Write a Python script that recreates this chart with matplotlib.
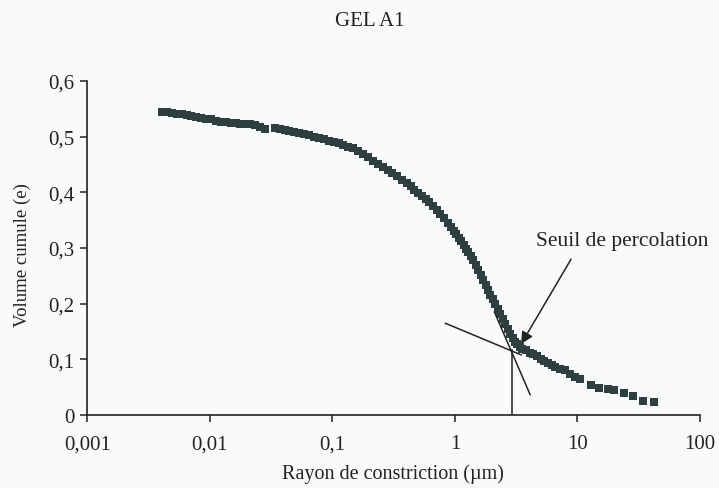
import numpy as np
import matplotlib
matplotlib.use("Agg")
import matplotlib.pyplot as plt

plt.rcParams['font.family'] = ['Liberation Serif', 'DejaVu Serif']

# rayon de constriction (um) / volume cumule
rayon = [0.00407, 0.00447, 0.00490, 0.00537, 0.00589, 0.00646, 0.00708, 0.00776,
         0.00851, 0.00933, 0.01023, 0.01122, 0.01230, 0.01349, 0.01479, 0.01622,
         0.01778, 0.01950, 0.02138, 0.02344, 0.02570, 0.02818,
         0.03388, 0.03715, 0.04074, 0.04467, 0.04898, 0.05370, 0.05888, 0.06457,
         0.07079, 0.07762, 0.08511, 0.09333, 0.1023, 0.1122, 0.1230, 0.1349,
         0.1479, 0.1622, 0.1778, 0.1950, 0.2138, 0.2344, 0.2570, 0.2818,
         0.3090, 0.3388, 0.3715, 0.4074, 0.4365, 0.4677, 0.5012, 0.5370,
         0.5754, 0.6166, 0.6607, 0.7079, 0.7586, 0.8128, 0.8710, 0.9333,
         0.9772, 1.023, 1.072, 1.122, 1.175, 1.230, 1.288, 1.349, 1.413,
         1.479, 1.549, 1.622, 1.698, 1.778, 1.862, 1.950, 2.042, 2.138,
         2.239, 2.344, 2.455, 2.570, 2.692, 2.818, 2.951, 3.090, 3.236,
         3.388, 3.548, 3.802, 4.074, 4.365, 4.677, 5.012, 5.370, 5.754,
         6.166, 6.607, 7.244, 7.943, 8.710, 9.550,
         10.4, 12.9, 15.1, 17.6, 20.0, 24.1, 28.2, 34.0, 42.4]
volume = [0.545, 0.544, 0.542, 0.541, 0.540, 0.539, 0.537, 0.535,
          0.534, 0.532, 0.531, 0.529, 0.527, 0.526, 0.525, 0.524,
          0.523, 0.523, 0.522, 0.521, 0.517, 0.514,
          0.515, 0.513, 0.512, 0.510, 0.508, 0.507, 0.505, 0.503,
          0.500, 0.498, 0.496, 0.493, 0.491, 0.488, 0.485, 0.482,
          0.479, 0.474, 0.468, 0.463, 0.457, 0.451, 0.446, 0.440,
          0.434, 0.429, 0.423, 0.417, 0.411, 0.405, 0.399, 0.394,
          0.388, 0.382, 0.376, 0.368, 0.361, 0.353, 0.345, 0.338,
          0.331, 0.325, 0.318, 0.312, 0.305, 0.298, 0.292, 0.285, 0.278,
          0.269, 0.261, 0.252, 0.243, 0.234, 0.225, 0.216, 0.208, 0.199,
          0.190, 0.181, 0.172, 0.163, 0.155, 0.146, 0.138, 0.132, 0.127,
          0.123, 0.119, 0.116, 0.112, 0.109, 0.106, 0.101, 0.097, 0.093,
          0.089, 0.086, 0.083, 0.080, 0.074, 0.069,
          0.065, 0.054, 0.049, 0.046, 0.045, 0.040, 0.034, 0.026, 0.023]

# tangentes et seuil
tangente1_x = [0.838, 3.47]
tangente1_y = [0.1647, 0.108]
tangente2_x = [2.10, 4.11]
tangente2_y = [0.185, 0.0365]
seuil_x = 2.91
seuil_y = 0.1165
fleche_debut = (8.87, 0.280)
fleche_fin = (3.47, 0.1275)

xticks = [0.001, 0.01, 0.1, 1, 10, 100]
xlabels = ['0,001', '0,01', '0,1', '1', '10', '100']
yticks = [0, 0.1, 0.2, 0.3, 0.4, 0.5, 0.6]
ylabels = ['0', '0,1', '0,2', '0,3', '0,4', '0,5', '0,6']

fond = '#f8fafb'
fig = plt.figure(figsize=(7.19, 4.89), dpi=100, facecolor=fond)
ax = fig.add_axes([0.1214, 0.1493, 0.8522, 0.683])
ax.set_facecolor(fond)

ax.plot(rayon, volume, 's', color='#2e403d', markersize=5.2, markeredgewidth=0)

ax.plot(tangente1_x, tangente1_y, color='#222222', lw=1.1)
ax.plot(tangente2_x, tangente2_y, color='#222222', lw=1.1)
ax.plot([seuil_x, seuil_x], [0, seuil_y], color='#222222', lw=1.1)
ax.annotate('', xy=fleche_fin, xytext=fleche_debut,
            arrowprops=dict(arrowstyle='-|>', color='#222222', lw=1.1,
                            mutation_scale=18, shrinkA=0, shrinkB=0),
            annotation_clip=False)
ax.text(4.6, 0.313, 'Seuil de percolation', fontsize=15.5, va='center',
        ha='left', color='#222222', clip_on=False)

ax.set_xscale('log')
ax.set_xlim(0.001, 100)
ax.set_ylim(0, 0.6)
ax.set_xticks(xticks)
ax.set_xticklabels(xlabels)
ax.xaxis.set_minor_locator(matplotlib.ticker.NullLocator())
ax.set_yticks(yticks)
ax.set_yticklabels(ylabels)
ax.tick_params(axis='x', direction='out', length=5, width=1.1, pad=9,
               labelsize=15, colors='#222222')
ax.tick_params(axis='y', direction='out', length=5, width=1.1, pad=4,
               labelsize=15, colors='#222222')
for s in ['top', 'right']:
    ax.spines[s].set_visible(False)
for s in ['left', 'bottom']:
    ax.spines[s].set_linewidth(1.2)
    ax.spines[s].set_color('#222222')

fig.text(0.5146, 0.9556, 'GEL A1', fontsize=15, ha='center', va='center',
         color='#222222')
fig.text(0.547, 0.0307, 'Rayon de constriction (\u00b5m)', fontsize=14.5,
         ha='center', va='center', color='#222222')
fig.text(0.031, 0.478, 'Volume cumule (e)', fontsize=13.5, rotation=90,
         ha='center', va='center', color='#222222')

fig.savefig('out.png', dpi=100, facecolor=fond)
